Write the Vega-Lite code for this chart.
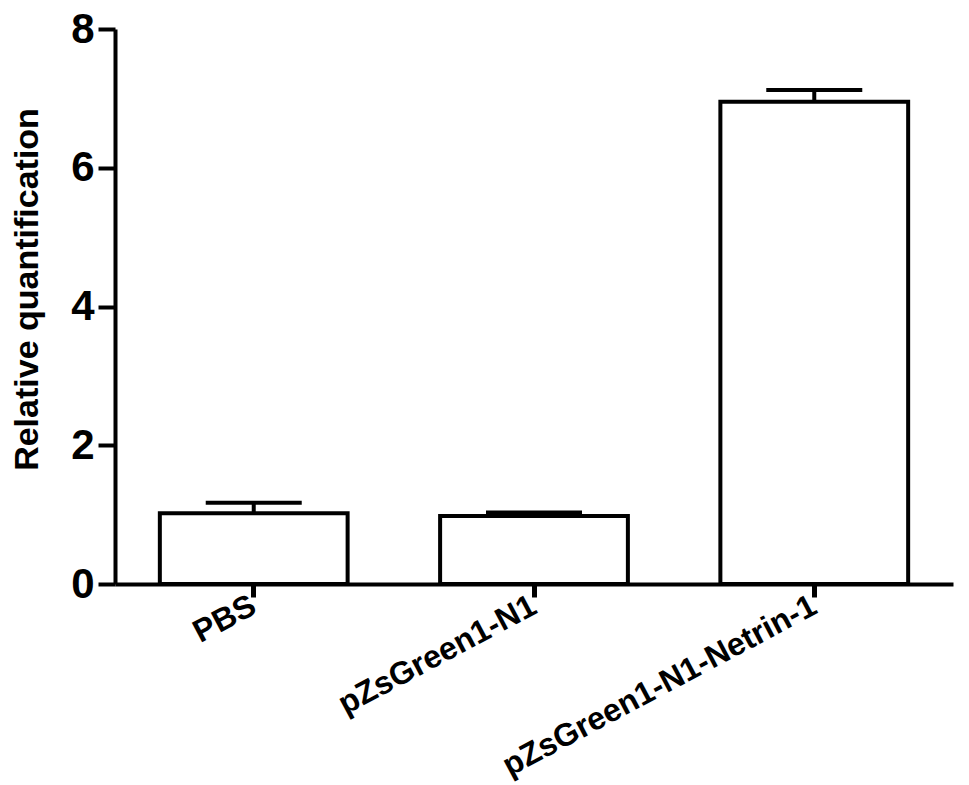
{
  "$schema": "https://vega.github.io/schema/vega-lite/v6.json",
  "autosize": {"type": "none"},
  "padding": {"left": 115, "top": 29, "right": 16, "bottom": 201},
  "width": 838,
  "height": 555,
  "background": "white",
  "config": {
    "view": {"stroke": null},
    "axisX": {"tickColor": "#000000", "tickWidth": 5, "tickSize": 13, "domainColor": "#000000", "domainWidth": 4},
    "axisY": {"tickColor": "#000000", "tickWidth": 4, "tickSize": 17, "domainColor": "#000000", "domainWidth": 4}
  },
  "data": {"values": [
    {"group": "PBS", "value": 1.02, "upper": 1.17},
    {"group": "pZsGreen1-N1", "value": 0.98, "upper": 1.03},
    {"group": "pZsGreen1-N1-Netrin-1", "value": 6.95, "upper": 7.12}
  ]},
  "layer": [
    {"mark": {"type": "bar", "fill": "white", "stroke": "black", "strokeWidth": 4},
      "encoding": {
        "x": {"field": "group", "type": "nominal", "sort": null,
          "scale": {"paddingInner": 0.33, "paddingOuter": 0.16},
          "axis": {"title": null, "labelAngle": -28, "labelAlign": "right", "labelBaseline": "middle", "labelLimit": 0,
            "labelFont": "Liberation Sans", "labelFontWeight": "bold", "labelFontSize": 32, "labelColor": "black",
            "labelPadding": 6}},
        "y": {"field": "value", "type": "quantitative",
          "scale": {"domain": [0, 8], "nice": false},
          "axis": {"title": "Relative quantification", "values": [0, 2, 4, 6, 8], "format": "d", "grid": false,
            "titleFont": "Liberation Sans", "titleFontWeight": "bold", "titleFontSize": 34, "titleColor": "black", "titlePadding": 26, "titleY": 260,
            "labelFont": "Liberation Sans", "labelFontWeight": "bold", "labelFontSize": 42, "labelColor": "black", "labelPadding": 4}}}},
    {"mark": {"type": "rule", "stroke": "black", "strokeWidth": 4},
      "encoding": {
        "x": {"field": "group", "type": "nominal", "sort": null},
        "y": {"field": "value", "type": "quantitative"}, "y2": {"field": "upper"}}},
    {"mark": {"type": "tick", "color": "black", "opacity": 1, "thickness": 4, "size": 96},
      "encoding": {
        "x": {"field": "group", "type": "nominal", "sort": null},
        "y": {"field": "upper", "type": "quantitative"}}}
  ]
}
